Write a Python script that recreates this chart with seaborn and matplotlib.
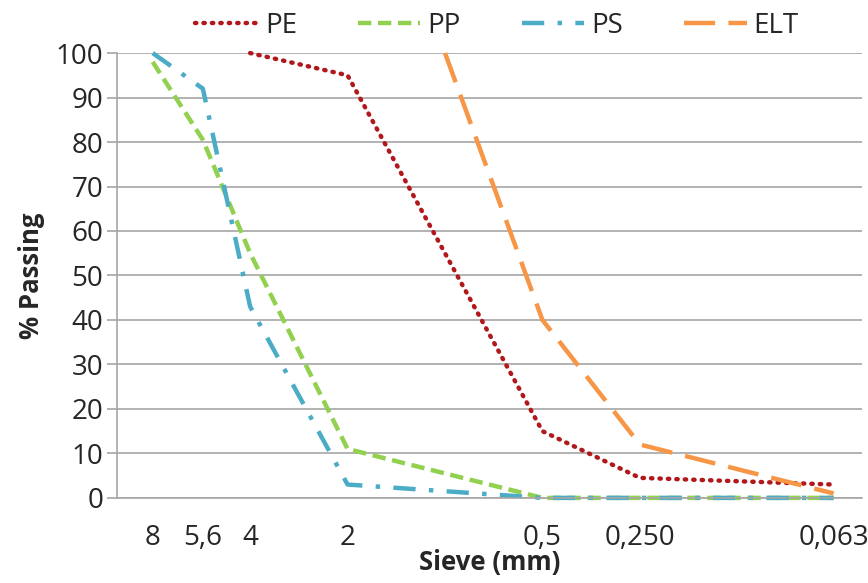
import matplotlib
matplotlib.use("Agg")
import matplotlib.pyplot as plt
import seaborn as sns
import pandas as pd
from matplotlib.ticker import FixedLocator, NullLocator

sns.set_theme(style="white")
plt.rcParams['font.family'] = ['Open Sans', 'DejaVu Sans']

# Data
pe_sieve = [4, 2, 0.5, 0.25, 0.063]
pe_pass = [100, 95, 15, 4.5, 3]
pp_sieve = [8, 5.6, 4, 2, 0.5, 0.25, 0.063]
pp_pass = [98, 80.5, 55, 11, 0, 0, 0]
ps_sieve = [8, 5.6, 4, 2, 0.5, 0.25, 0.063]
ps_pass = [100, 92, 43, 3, 0, 0, 0]
elt_sieve = [1, 0.5, 0.25, 0.063]
elt_pass = [100, 40, 12, 1]

tick_values = [8, 5.6, 4, 2, 0.5, 0.25, 0.063]
tick_labels = ["8", "5,6", "4", "2", "0,5", "0,250", "0,063"]
y_ticks = list(range(0, 101, 10))

fig = plt.figure(figsize=(8.68, 5.83), dpi=100)
ax = fig.add_axes([0.135, 0.146, 0.858, 0.763])

series = [
    ("PE", pe_sieve, pe_pass, "#B0181B", (0, (0.3, 1.6)), 3.2, "round"),
    ("PP", pp_sieve, pp_pass, "#92D050", (0, (3, 1.5)), 3.2, "butt"),
    ("PS", ps_sieve, ps_pass, "#4BACC6", (0, (5, 3, 1, 3)), 3.2, "butt"),
    ("ELT", elt_sieve, elt_pass, "#F79646", (0, (7, 3)), 3.2, "butt"),
]
for name, xs, ys, col, ls, lw, cap in series:
    df = pd.DataFrame({"Sieve": xs, "Passing": ys})
    sns.lineplot(data=df, x="Sieve", y="Passing", ax=ax, color=col,
                 linewidth=lw, label=name, sort=False)
    ln = ax.lines[-1]
    ln.set_linestyle(ls)
    ln.set_dash_capstyle(cap)
    ln.set_clip_on(False)

ax.set_xscale("log", base=2)
ax.set_xlim(10.3, 0.0515)
ax.set_ylim(0, 100)
ax.xaxis.set_major_locator(FixedLocator(tick_values))
ax.xaxis.set_minor_locator(NullLocator())
ax.set_xticklabels(tick_labels)
ax.set_yticks(y_ticks)

ax.grid(axis="y", color="#A6A6A6", linewidth=1.2)
ax.set_axisbelow(True)
for s in ["top", "right"]:
    ax.spines[s].set_visible(False)
ax.spines["left"].set_color("#A6A6A6")
ax.spines["bottom"].set_color("#A6A6A6")
ax.spines["left"].set_linewidth(1.2)
ax.spines["bottom"].set_linewidth(1.2)

ax.tick_params(axis="x", direction="inout", length=12, width=1.2, color="#808080",
               labelsize=20, pad=13)
ax.tick_params(axis="y", direction="out", length=7, width=1.2, color="#A6A6A6",
               labelsize=20, pad=3, left=True)

ax.set_xlabel("Sieve (mm)", fontsize=18.5, fontweight="bold", labelpad=-2)
ax.set_ylabel("% Passing", fontsize=18.5, fontweight="bold", labelpad=8)

leg = ax.legend(loc="lower center", bbox_to_anchor=(0.51, 1.005), ncol=4, frameon=False,
                fontsize=20, handlelength=2.25, columnspacing=2.2, handletextpad=0.25,
                borderaxespad=0.0)

fig.savefig("out.png", dpi=100)
